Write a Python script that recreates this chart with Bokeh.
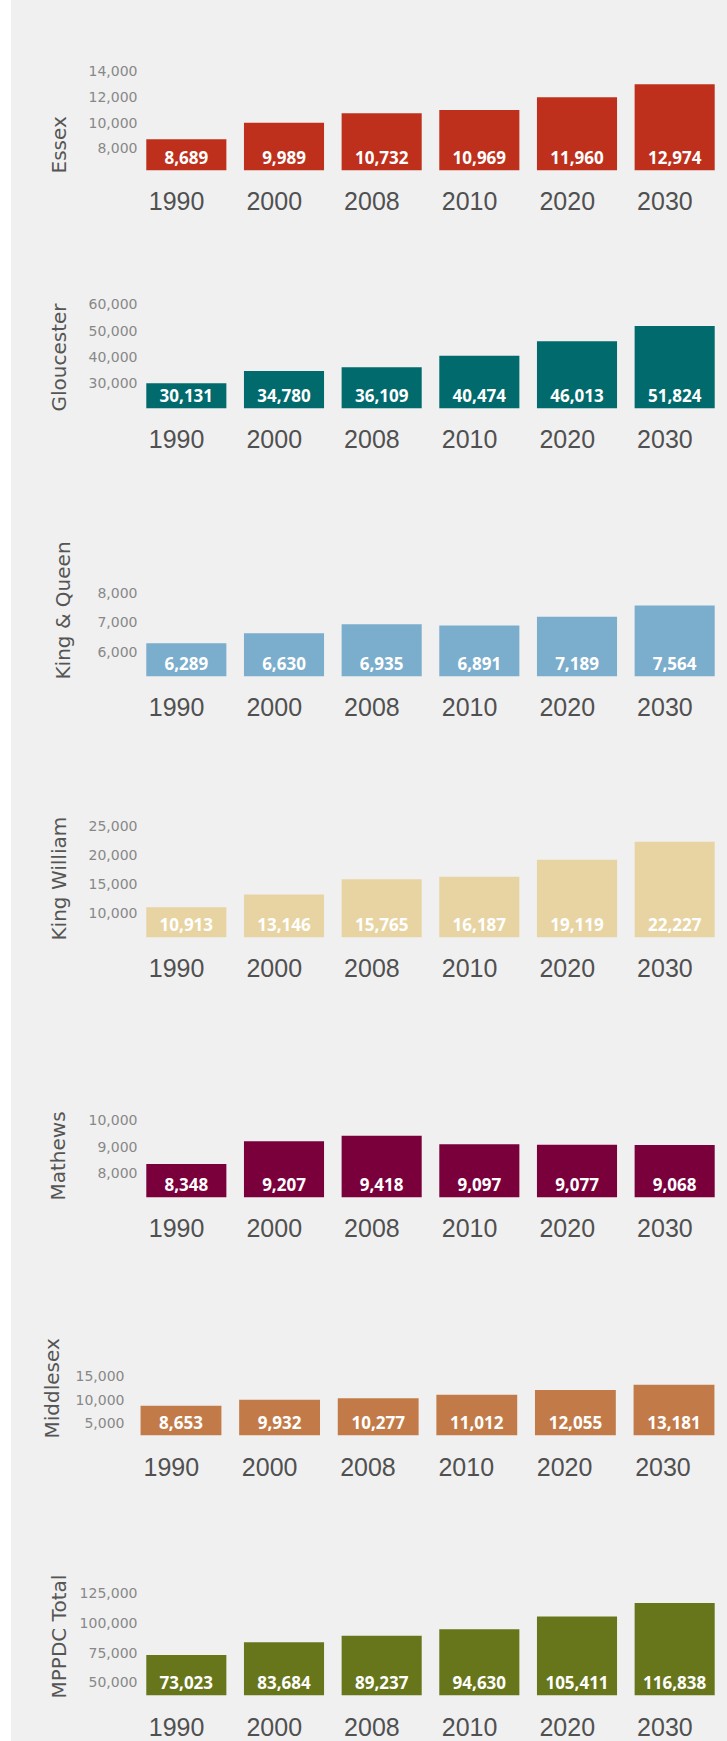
from bokeh.plotting import figure
from bokeh.layouts import column
from bokeh.models import (FixedTicker, NumeralTickFormatter, Range1d, ColumnDataSource,
                          LinearAxis, Title)
from bokeh.core.properties import value
from bokeh.embed import file_html
from bokeh.resources import INLINE

# ---- data ----
years = ["1990", "2000", "2008", "2010", "2020", "2030"]

essex = [8689, 9989, 10732, 10969, 11960, 12974]
gloucester = [30131, 34780, 36109, 40474, 46013, 51824]
king_queen = [6289, 6630, 6935, 6891, 7189, 7564]
king_william = [10913, 13146, 15765, 16187, 19119, 22227]
mathews = [8348, 9207, 9418, 9097, 9077, 9068]
middlesex = [8653, 9932, 10277, 11012, 12055, 13181]
mppdc_total = [73023, 83684, 89237, 94630, 105411, 116838]

essex_ticks = [8000, 10000, 12000, 14000]
gloucester_ticks = [30000, 40000, 50000, 60000]
king_queen_ticks = [6000, 7000, 8000]
king_william_ticks = [10000, 15000, 20000, 25000]
mathews_ticks = [8000, 9000, 10000]
middlesex_ticks = [5000, 10000, 15000]
mppdc_ticks = [50000, 75000, 100000, 125000]

BG = "#f0f0f0"

# layout/style per panel:
# name, values, ticks, color, y_start, y_end, height, border_top, border_bottom,
# title_standoff, year_standoff, tick_standoff, bar x-range, label x-range
STD_X = (-0.5, 5.5)
STD_LX = (-0.4, 5.6)
panels = [
    ("Essex", essex, essex_ticks, "#be301c", 6261, 15613, 230, 50, 60, 29, 15, -6, STD_X, STD_LX),
    ("Gloucester", gloucester, gloucester_ticks, "#016a6c", 20530, 65227, 240, 60, 62, 29, 15, -6, STD_X, STD_LX),
    ("King & Queen", king_queen, king_queen_ticks, "#7badcc", 5160, 8583, 270, 105, 64, 40, 15, -6, STD_X, STD_LX),
    ("King William", king_william, king_william_ticks, "#e8d4a3", 5690, 26787, 260, 75, 63, 29, 15, -6, STD_X, STD_LX),
    ("Mathews", mathews, mathews_ticks, "#7a003c", 7087, 10747, 250, 100, 53, 31, 15, -6, STD_X, STD_LX),
    ("Middlesex", middlesex, middlesex_ticks, "#c27b48", 2295, 20083, 230, 102, 45, 18, 16, 7,
     (-0.441, 5.502), (-0.344, 5.616)),
    ("MPPDC Total", mppdc_total, mppdc_ticks, "#68761b", 38845, 134155, 261, 102, 46, 11, 16, -6, STD_X, STD_LX),
]


def make_panel(name, vals, ticks, color, y0, y1, h, bt, bb, tstd, ystd, kstd, xr, lxr):
    n = len(years)
    idx = list(range(n))
    p = figure(x_range=Range1d(*xr), y_range=Range1d(y0, y1),
               width=716, height=h,
               output_backend="svg", toolbar_location=None, x_axis_location=None,
               min_border_top=bt, min_border_bottom=bb, min_border_left=126,
               min_border_right=4, background_fill_color=BG, border_fill_color=BG,
               outline_line_color=None)
    src = ColumnDataSource(dict(i=idx, val=vals, lab=[f"{v:,}" for v in vals]))
    p.vbar(x="i", top="val", bottom=y0, width=0.82, source=src,
           fill_color=color, line_color=None)
    p.text(x="i", y=y0, text="lab", source=src, text_color="white",
           text_align="center", text_baseline="middle", y_offset=-13,
           text_font=value("Open Sans"), text_font_size="17px",
           text_font_style="bold")
    p.xgrid.visible = False
    p.ygrid.visible = False

    # year labels: slightly left of the bar centres, as in the original
    p.extra_x_ranges = {"yrs": Range1d(*lxr)}
    xa = LinearAxis(x_range_name="yrs", ticker=FixedTicker(ticks=idx),
                    major_label_overrides={i: y for i, y in enumerate(years)})
    xa.axis_line_color = None
    xa.major_tick_line_color = None
    xa.minor_tick_line_color = None
    xa.major_label_text_font = "Liberation Sans"
    xa.major_label_text_font_size = "25px"
    xa.major_label_text_color = "#505050"
    xa.major_label_standoff = ystd
    p.add_layout(xa, "below")

    ya = p.yaxis[0]
    ya.ticker = FixedTicker(ticks=ticks)
    ya.formatter = NumeralTickFormatter(format="0,0")
    ya.axis_line_color = None
    ya.major_tick_line_color = None
    ya.minor_tick_line_color = None
    ya.major_label_standoff = kstd
    ya.major_label_text_font = "DejaVu Sans"
    ya.major_label_text_font_size = "14px"
    ya.major_label_text_color = "#888888"

    t = Title(text=name, align="left", text_font="DejaVu Sans",
              text_font_style="normal", text_font_size="20px",
              text_color="#555555", standoff=tstd, offset=-3)
    p.add_layout(t, "left")
    return p


figs = [make_panel(*cfg) for cfg in panels]
layout = column(*figs, spacing=0, margin=(0, 0, 0, 11),
                styles={"background-color": BG})
open("out.html", "w").write(file_html(layout, INLINE))
